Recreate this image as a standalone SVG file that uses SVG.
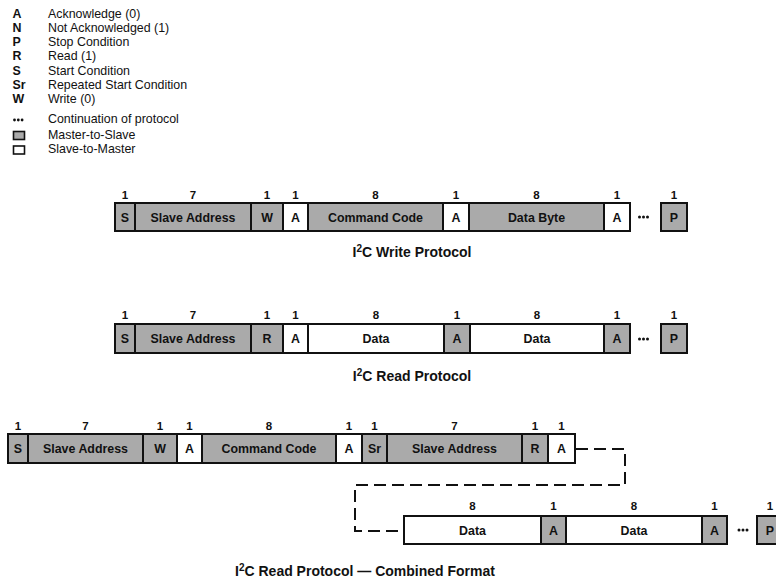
<svg xmlns="http://www.w3.org/2000/svg" width="776" height="580" viewBox="0 0 776 580">
<style>
  text { font-family: "Liberation Sans", Arial, Helvetica, sans-serif; fill: #111; }
  .lg { font-size: 12.4px; }
  .lgk { font-size: 12.4px; font-weight: bold; }
  .lbl { font-size: 12.4px; font-weight: bold; text-anchor: middle; }
  .num { font-size: 11.5px; font-weight: bold; text-anchor: middle; }
  .ttl { font-size: 14px; font-weight: bold; text-anchor: middle; }
  .sup { font-size: 10px; }
  .m { fill: #aaaaaa; stroke: #111; stroke-width: 2; }
  .s { fill: #ffffff; stroke: #111; stroke-width: 2; }
  .lgbox { stroke: #111; stroke-width: 1.6; }
  .dot { fill: #111; }
  .dash { fill: none; stroke: #111; stroke-width: 2; stroke-dasharray: 12 6; }
</style>

<g id="legend">
  <text class="lgk" x="12.5" y="17.5">A</text><text class="lg" x="48" y="17.5">Acknowledge  (0)</text>
  <text class="lgk" x="12.5" y="32">N</text><text class="lg" x="48" y="32">Not Acknowledged  (1)</text>
  <text class="lgk" x="12.5" y="46">P</text><text class="lg" x="48" y="46">Stop Condition</text>
  <text class="lgk" x="12.5" y="60.3">R</text><text class="lg" x="48" y="60.3">Read  (1)</text>
  <text class="lgk" x="12.5" y="74.5">S</text><text class="lg" x="48" y="74.5">Start Condition</text>
  <text class="lgk" x="12.5" y="88.8">Sr</text><text class="lg" x="48" y="88.8">Repeated Start Condition</text>
  <text class="lgk" x="12.5" y="103">W</text><text class="lg" x="48" y="103">Write  (0)</text>
  <circle class="dot" cx="14.5" cy="120" r="1.4"/><circle class="dot" cx="18.3" cy="120" r="1.4"/><circle class="dot" cx="22.1" cy="120" r="1.4"/>
  <text class="lg" x="48" y="122.5">Continuation of protocol</text>
  <rect class="lgbox" x="13.5" y="131.5" width="11" height="8" fill="#aaaaaa"/>
  <text class="lg" x="48" y="139.3">Master-to-Slave</text>
  <rect class="lgbox" x="13.5" y="146" width="11" height="8" fill="#ffffff"/>
  <text class="lg" x="48" y="153.3">Slave-to-Master</text>
</g>

<!-- Write protocol -->
<g id="write">
  <g id="w-s"><rect class="m" x="115" y="203" width="20" height="28"/><text class="lbl" x="125" y="222">S</text><text class="num" x="125" y="199">1</text></g>
  <g id="w-addr"><rect class="m" x="135" y="203" width="116" height="28"/><text class="lbl" x="193" y="222">Slave Address</text><text class="num" x="193" y="199">7</text></g>
  <g id="w-w"><rect class="m" x="251" y="203" width="32" height="28"/><text class="lbl" x="267" y="222">W</text><text class="num" x="267" y="199">1</text></g>
  <g id="w-a1"><rect class="s" x="283" y="203" width="25" height="28"/><text class="lbl" x="295.5" y="222">A</text><text class="num" x="295.5" y="199">1</text></g>
  <g id="w-cmd"><rect class="m" x="308" y="203" width="135" height="28"/><text class="lbl" x="375.5" y="222">Command Code</text><text class="num" x="375.5" y="199">8</text></g>
  <g id="w-a2"><rect class="s" x="443" y="203" width="26" height="28"/><text class="lbl" x="456" y="222">A</text><text class="num" x="456" y="199">1</text></g>
  <g id="w-data"><rect class="m" x="469" y="203" width="135" height="28"/><text class="lbl" x="536.5" y="222">Data Byte</text><text class="num" x="536.5" y="199">8</text></g>
  <g id="w-a3"><rect class="s" x="604" y="203" width="26" height="28"/><text class="lbl" x="617" y="222">A</text><text class="num" x="617" y="199">1</text></g>
  <g id="w-dots"><circle class="dot" cx="639.5" cy="217" r="1.5"/><circle class="dot" cx="643.5" cy="217" r="1.5"/><circle class="dot" cx="647.5" cy="217" r="1.5"/></g>
  <g id="w-p"><rect class="m" x="661" y="203" width="26" height="28"/><text class="lbl" x="674" y="222">P</text><text class="num" x="674" y="199">1</text></g>
  <text class="ttl" x="412" y="257">I<tspan class="sup" dy="-5">2</tspan><tspan dy="5">C Write Protocol</tspan></text>
</g>

<!-- Read protocol -->
<g id="read">
  <g id="r-s"><rect class="m" x="115" y="324" width="20" height="29"/><text class="lbl" x="125" y="343">S</text><text class="num" x="125" y="319">1</text></g>
  <g id="r-addr"><rect class="m" x="135" y="324" width="116" height="29"/><text class="lbl" x="193" y="343">Slave Address</text><text class="num" x="193" y="319">7</text></g>
  <g id="r-r"><rect class="m" x="251" y="324" width="32" height="29"/><text class="lbl" x="267" y="343">R</text><text class="num" x="267" y="319">1</text></g>
  <g id="r-a1"><rect class="s" x="283" y="324" width="25" height="29"/><text class="lbl" x="295.5" y="343">A</text><text class="num" x="295.5" y="319">1</text></g>
  <g id="r-d1"><rect class="s" x="308" y="324" width="136" height="29"/><text class="lbl" x="376" y="343">Data</text><text class="num" x="376" y="319">8</text></g>
  <g id="r-a2"><rect class="m" x="444" y="324" width="26" height="29"/><text class="lbl" x="457" y="343">A</text><text class="num" x="457" y="319">1</text></g>
  <g id="r-d2"><rect class="s" x="470" y="324" width="134" height="29"/><text class="lbl" x="537" y="343">Data</text><text class="num" x="537" y="319">8</text></g>
  <g id="r-a3"><rect class="m" x="604" y="324" width="26" height="29"/><text class="lbl" x="617" y="343">A</text><text class="num" x="617" y="319">1</text></g>
  <g id="r-dots"><circle class="dot" cx="639.5" cy="339" r="1.5"/><circle class="dot" cx="643.5" cy="339" r="1.5"/><circle class="dot" cx="647.5" cy="339" r="1.5"/></g>
  <g id="r-p"><rect class="m" x="661" y="324" width="26" height="29"/><text class="lbl" x="674" y="343">P</text><text class="num" x="674" y="319">1</text></g>
  <text class="ttl" x="412" y="381">I<tspan class="sup" dy="-5">2</tspan><tspan dy="5">C Read Protocol</tspan></text>
</g>

<!-- Combined format -->
<g id="combined">
  <g id="c-s"><rect class="m" x="8" y="434" width="20" height="29"/><text class="lbl" x="18" y="453">S</text><text class="num" x="18" y="430">1</text></g>
  <g id="c-addr1"><rect class="m" x="28" y="434" width="115" height="29"/><text class="lbl" x="85.5" y="453">Slave Address</text><text class="num" x="85.5" y="430">7</text></g>
  <g id="c-w"><rect class="m" x="143" y="434" width="34" height="29"/><text class="lbl" x="160" y="453">W</text><text class="num" x="160" y="430">1</text></g>
  <g id="c-a1"><rect class="s" x="177" y="434" width="25" height="29"/><text class="lbl" x="189.5" y="453">A</text><text class="num" x="189.5" y="430">1</text></g>
  <g id="c-cmd"><rect class="m" x="202" y="434" width="134" height="29"/><text class="lbl" x="269" y="453">Command Code</text><text class="num" x="269" y="430">8</text></g>
  <g id="c-a2"><rect class="s" x="336" y="434" width="26" height="29"/><text class="lbl" x="349" y="453">A</text><text class="num" x="349" y="430">1</text></g>
  <g id="c-sr"><rect class="m" x="362" y="434" width="25" height="29"/><text class="lbl" x="374.5" y="453">Sr</text><text class="num" x="374.5" y="430">1</text></g>
  <g id="c-addr2"><rect class="m" x="387" y="434" width="135" height="29"/><text class="lbl" x="454.5" y="453">Slave Address</text><text class="num" x="454.5" y="430">7</text></g>
  <g id="c-r"><rect class="m" x="522" y="434" width="26" height="29"/><text class="lbl" x="535" y="453">R</text><text class="num" x="535" y="430">1</text></g>
  <g id="c-a3"><rect class="s" x="548" y="434" width="27" height="29"/><text class="lbl" x="561.5" y="453">A</text><text class="num" x="561.5" y="430">1</text></g>

  <g id="c-d1"><rect class="s" x="404" y="516" width="137" height="28"/><text class="lbl" x="472.5" y="535">Data</text><text class="num" x="472.5" y="510">8</text></g>
  <g id="c-a4"><rect class="m" x="541" y="516" width="25" height="28"/><text class="lbl" x="553.5" y="535">A</text><text class="num" x="553.5" y="510">1</text></g>
  <g id="c-d2"><rect class="s" x="566" y="516" width="136" height="28"/><text class="lbl" x="634" y="535">Data</text><text class="num" x="634" y="510">8</text></g>
  <g id="c-a5"><rect class="m" x="702" y="516" width="25" height="28"/><text class="lbl" x="714.5" y="535">A</text><text class="num" x="714.5" y="510">1</text></g>
  <g id="c-dots"><circle class="dot" cx="739" cy="530" r="1.5"/><circle class="dot" cx="743" cy="530" r="1.5"/><circle class="dot" cx="747" cy="530" r="1.5"/></g>
  <g id="c-p"><rect class="m" x="757" y="516" width="26" height="28"/><text class="lbl" x="770" y="535">P</text><text class="num" x="770" y="510">1</text></g>
  <text class="ttl" x="365" y="576">I<tspan class="sup" dy="-5">2</tspan><tspan dy="5">C Read Protocol — Combined Format</tspan></text>
</g>

<g id="connectors">
  <path class="dash" d="M576 449 H625 V485 H355 V531 H403"/>
</g>
</svg>
